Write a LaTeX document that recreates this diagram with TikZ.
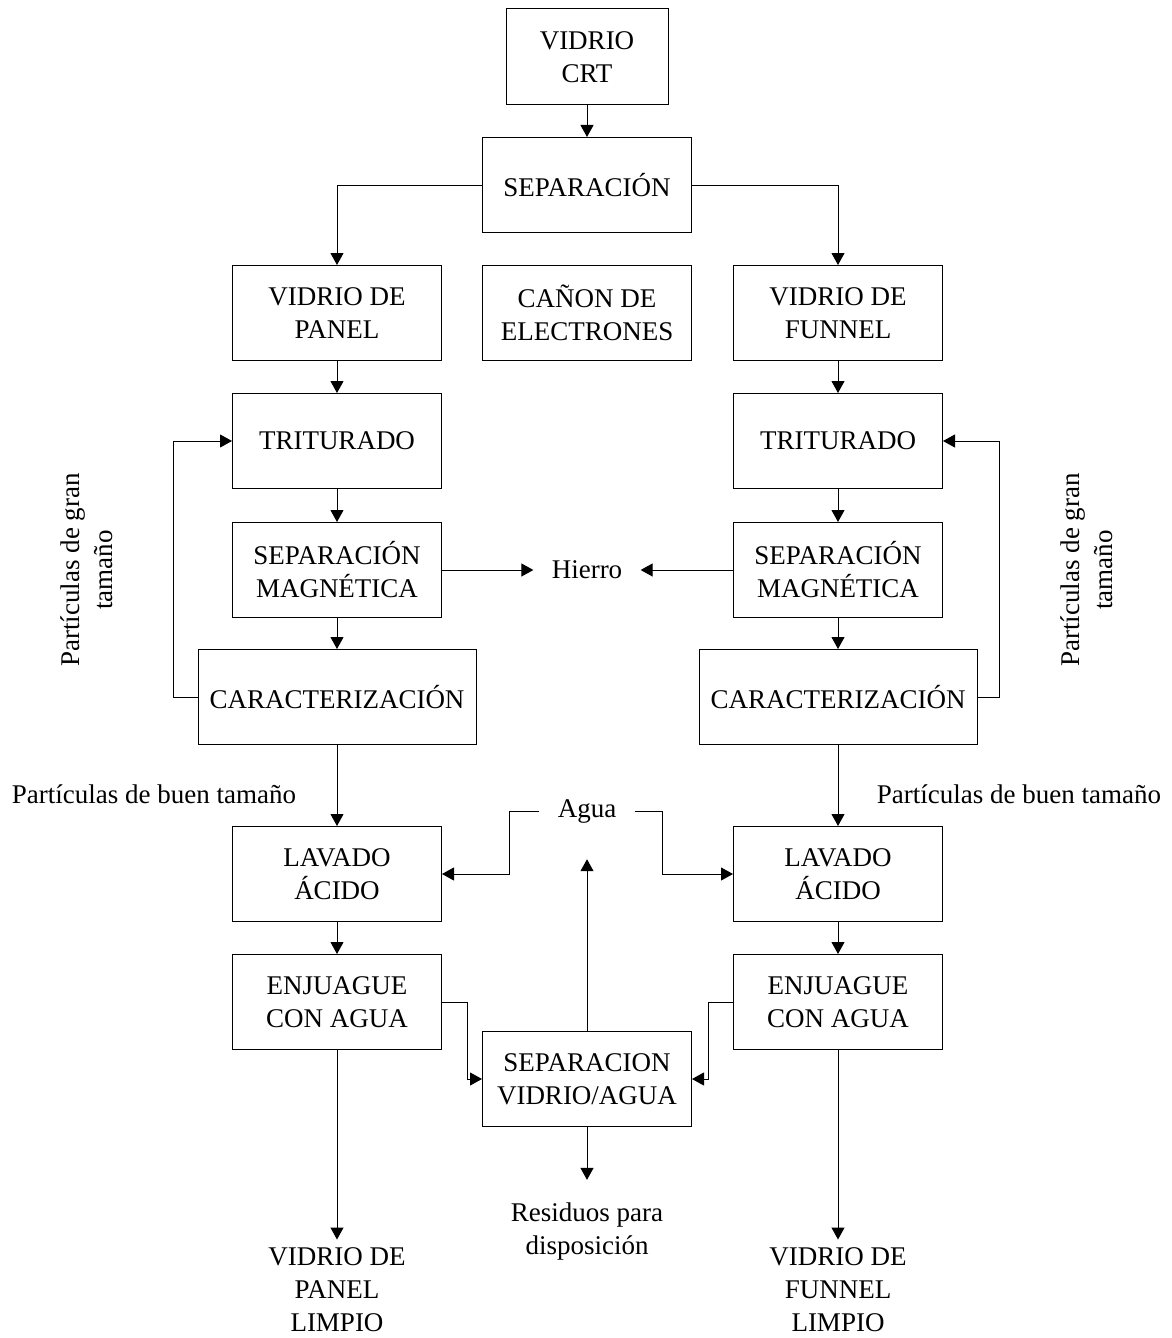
\documentclass[tikz,border=0pt]{standalone}
\usepackage{fontspec}
\setmainfont{Liberation Serif}
\usetikzlibrary{arrows.meta}

\begin{document}
\begin{tikzpicture}[x=0.5pt,y=-0.5pt,
    font=\fontsize{13.5}{16.5}\selectfont,
    caja/.style={draw,line width=0.5pt,align=center,minimum width=104.5pt,minimum height=47.5pt,inner sep=0pt},
    ancha/.style={caja,minimum width=139pt},
    texto/.style={align=center,inner sep=0pt},
    flecha/.style={-{Triangle[length=6pt,width=6.5pt]},line width=0.5pt}]
    \useasboundingbox (0,0) rectangle (1172,1338);

    % bloque central
    \node[caja,minimum width=81pt,minimum height=48pt] (crt) at (587,57) {VIDRIO\\CRT};
    \node[caja] (sep) at (587,185) {SEPARACIÓN};
    \node[caja] (canon) at (587,313) {CAÑON DE\\ELECTRONES};
    \node[caja] (sva) at (587,1079) {SEPARACION\\VIDRIO/AGUA};
    \node[texto,inner xsep=9pt] (hierro) at (587,570) {Hierro};
    \node[texto,inner xsep=9pt] (agua) at (587,811) {Agua};
    \node[texto] (residuos) at (587,1231) {Residuos para\\disposición};

    % rama del panel
    \node[caja] (panel) at (337,313) {VIDRIO DE\\PANEL};
    \node[caja] (tritA) at (337,441) {TRITURADO};
    \node[caja] (magA) at (337,570) {SEPARACIÓN\\MAGNÉTICA};
    \node[ancha] (carA) at (337,697) {CARACTERIZACIÓN};
    \node[caja] (lavA) at (337,874) {LAVADO\\ÁCIDO};
    \node[caja] (enjA) at (337,1002) {ENJUAGUE\\CON AGUA};
    \node[texto] (limpA) at (337,1290) {VIDRIO DE\\PANEL\\LIMPIO};
    \node[texto,rotate=90] (granA) at (87,570) {Partículas de gran\\tamaño};
    \node[texto] (buenA) at (154,794) {Partículas de buen tamaño};

    % rama del funnel
    \node[caja] (funnel) at (838,313) {VIDRIO DE\\FUNNEL};
    \node[caja] (tritB) at (838,441) {TRITURADO};
    \node[caja] (magB) at (838,570) {SEPARACIÓN\\MAGNÉTICA};
    \node[ancha] (carB) at (838,697) {CARACTERIZACIÓN};
    \node[caja] (lavB) at (838,874) {LAVADO\\ÁCIDO};
    \node[caja] (enjB) at (838,1002) {ENJUAGUE\\CON AGUA};
    \node[texto] (limpB) at (838,1290) {VIDRIO DE\\FUNNEL\\LIMPIO};
    \node[texto,rotate=90] (granB) at (1087,570) {Partículas de gran\\tamaño};
    \node[texto] (buenB) at (1019,794) {Partículas de buen tamaño};

    \draw[flecha] (crt) -- (sep);
    \draw[flecha] (sep.west) -| (panel);
    \draw[flecha] (sep.east) -| (funnel);

    \draw[flecha] (panel) -- (tritA);
    \draw[flecha] (tritA) -- (magA);
    \draw[flecha] (magA) -- (carA);
    \draw[flecha] (carA) -- (lavA);
    \draw[flecha] (lavA) -- (enjA);
    \draw[flecha,shorten >=4pt] (enjA) -- (limpA);
    \draw[flecha] (carA.west) -- ++(-24,0) |- (tritA.west);
    \draw[flecha] (magA) -- (hierro);
    \draw[flecha] (agua.west) -- ++(-30,0) |- (lavA.east);
    \draw[flecha] (enjA.east) -- ++(25,0) |- (sva.west);

    \draw[flecha] (funnel) -- (tritB);
    \draw[flecha] (tritB) -- (magB);
    \draw[flecha] (magB) -- (carB);
    \draw[flecha] (carB) -- (lavB);
    \draw[flecha] (lavB) -- (enjB);
    \draw[flecha,shorten >=4pt] (enjB) -- (limpB);
    \draw[flecha] (carB.east) -- ++(22,0) |- (tritB.east);
    \draw[flecha] (magB) -- (hierro);
    \draw[flecha] (agua.east) -- ++(28,0) |- (lavB.west);
    \draw[flecha] (enjB.west) -- ++(-25,0) |- (sva.east);

    \draw[flecha,shorten >=18pt] (sva) -- (agua);
    \draw[flecha,shorten >=11pt] (sva) -- (residuos);
\end{tikzpicture}
\end{document}
